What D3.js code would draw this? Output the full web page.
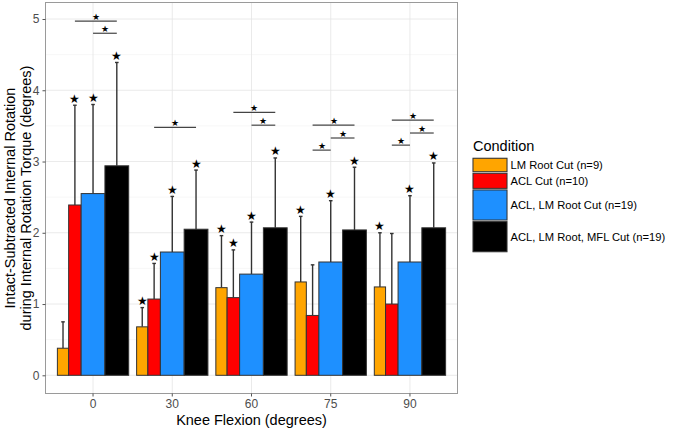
<!DOCTYPE html>
<html><head><meta charset="utf-8">
<script src="https://cdn.jsdelivr.net/npm/d3@7"></script>
<style>body{margin:0;background:#fff}svg{display:block}text{font-family:"Liberation Sans",Arial,sans-serif}</style>
</head><body><svg id="c" width="674" height="428"></svg>
<script>
const categories = ["0","30","60","75","90"];
const conditions = ["LM Root Cut (n=9)","ACL Cut (n=10)","ACL, LM Root Cut (n=19)","ACL, LM Root, MFL Cut (n=19)"];
const sampleN = [9,10,19,19];
const colors = ["#FFA500","#FF0000","#1E90FF","#000000"];
// mean per group (rows = knee flexion), columns = condition
const means = [
  [0.38,2.39,2.55,2.94],
  [0.68,1.07,1.73,2.05],
  [1.23,1.09,1.42,2.07],
  [1.31,0.84,1.59,2.04],
  [1.24,1.00,1.59,2.07]
];
// upper end of error bar (mean + SD)
const upper = [
  [0.75,3.79,3.80,4.39],
  [0.95,1.57,2.51,2.88],
  [1.96,1.76,2.15,3.05],
  [2.23,1.55,2.45,2.92],
  [2.00,1.99,2.52,2.98]
];
const starred = [
  [0,1,1,1],
  [1,1,1,1],
  [1,1,1,1],
  [1,0,1,1],
  [1,0,1,1]
];
// significance brackets: group, from condition, to condition, y value
const sigGroup = [0,0,1,2,2,3,3,3,4,4,4];
const sigFrom  = [1,2,1,1,2,1,2,1,1,2,1];
const sigTo    = [3,3,3,3,3,3,3,2,3,3,2];
const sigY     = [4.97,4.80,3.48,3.69,3.51,3.51,3.33,3.16,3.58,3.40,3.23];
const yTicks = [0,1,2,3,4,5];

const svg = d3.select("#c");
const L = 45.5, R = 457.5, T = 2.5, B = 393.5;
const x = d3.scaleBand().domain(categories).range([L,R]).paddingInner(0).paddingOuter(0.1);
const y = d3.scaleLinear().domain([0,5]).range([375.3,19]);
const step = x.step();
const nSum = d3.sum(sampleN);
const sub = d3.scaleLinear().domain([0,nSum]).range([-0.45*step,0.45*step]);
const cum = sampleN.map((n,i)=>d3.sum(sampleN.slice(0,i)));
const center = (g,c)=> x(categories[g]) + step/2 + sub(cum[c] + sampleN[c]/2);

// grid
const gGrid = svg.append("g");
d3.range(0.5,5.5,1).forEach(v=>{
  gGrid.append("line").attr("x1",L).attr("x2",R).attr("y1",y(v)).attr("y2",y(v)).attr("stroke","#f2f2f2").attr("stroke-width",0.6);
});
yTicks.forEach(v=>{
  gGrid.append("line").attr("x1",L).attr("x2",R).attr("y1",y(v)).attr("y2",y(v)).attr("stroke","#e5e5e5").attr("stroke-width",0.8);
});
categories.forEach(c=>{
  const cx = x(c)+step/2;
  gGrid.append("line").attr("x1",cx).attr("x2",cx).attr("y1",T).attr("y2",B).attr("stroke","#e5e5e5").attr("stroke-width",0.8);
});

// error bars
const gErr = svg.append("g");
means.forEach((row,g)=>row.forEach((m,c)=>{
  const cx = center(g,c);
  gErr.append("line").attr("x1",cx).attr("x2",cx).attr("y1",y(m)).attr("y2",y(upper[g][c])).attr("stroke","#333").attr("stroke-width",1.4);
  gErr.append("line").attr("x1",cx-1.8).attr("x2",cx+1.8).attr("y1",y(upper[g][c])).attr("y2",y(upper[g][c])).attr("stroke","#333").attr("stroke-width",1.4);
}));

// bars
const gBars = svg.append("g");
means.forEach((row,g)=>row.forEach((m,c)=>{
  const x0 = x(categories[g]) + step/2 + sub(cum[c]);
  const w = sub(cum[c]+sampleN[c]) - sub(cum[c]);
  gBars.append("rect").attr("x",x0).attr("y",y(m)).attr("width",w).attr("height",y(0)-y(m))
    .attr("fill",colors[c]).attr("stroke","#333").attr("stroke-width",1);
}));

// stars above bars
means.forEach((row,g)=>row.forEach((m,c)=>{
  if(!starred[g][c]) return;
  svg.append("text").attr("x",center(g,c)).attr("y",y(upper[g][c])-2.5).attr("text-anchor","middle")
    .attr("font-family","DejaVu Sans").attr("font-size",11.5).attr("fill","#000").text("★");
}));

// significance brackets
sigGroup.forEach((g,i)=>{
  const x1 = center(g,sigFrom[i]), x2 = center(g,sigTo[i]), yy = y(sigY[i]);
  svg.append("line").attr("x1",x1).attr("x2",x2).attr("y1",yy).attr("y2",yy).attr("stroke","#444").attr("stroke-width",1.2);
  svg.append("text").attr("x",(x1+x2)/2).attr("y",yy-1.5).attr("text-anchor","middle")
    .attr("font-family","DejaVu Sans").attr("font-size",8.5).attr("fill","#000").text("★");
});

// panel border
svg.append("rect").attr("x",L).attr("y",T).attr("width",R-L).attr("height",B-T).attr("fill","none").attr("stroke","#9a9a9a").attr("stroke-width",1);

// axes
const ya = svg.append("g").attr("transform",`translate(${L},0)`).call(d3.axisLeft(y).tickValues(yTicks).tickSize(3).tickPadding(3).tickFormat(d3.format("d")));
ya.select(".domain").remove();
ya.selectAll(".tick line").attr("stroke","#555");
ya.selectAll("text").attr("font-size",12).attr("fill","#4d4d4d").attr("font-family","Liberation Sans, Arial");
const xa = svg.append("g").attr("transform",`translate(0,${B})`).call(d3.axisBottom(x).tickSize(3).tickPadding(3));
xa.select(".domain").remove();
xa.selectAll(".tick line").attr("stroke","#555");
xa.selectAll("text").attr("font-size",12).attr("fill","#4d4d4d").attr("font-family","Liberation Sans, Arial");

// axis titles
svg.append("text").attr("x",251.5).attr("y",425).attr("text-anchor","middle").attr("font-size",14.5).attr("fill","#000").text("Knee Flexion (degrees)");
const yt = svg.append("text").attr("transform",`translate(0,198) rotate(-90)`).attr("text-anchor","middle").attr("font-size",14.5).attr("fill","#000");
yt.append("tspan").attr("x",0).attr("y",15).text("Intact-Subtracted Internal Rotation");
yt.append("tspan").attr("x",0).attr("y",30.5).text("during Internal Rotation Torque (degrees)");

// legend
const lg = svg.append("g");
lg.append("text").attr("x",473).attr("y",151).attr("font-size",14.5).attr("fill","#000").text("Condition");
const keyScale = d3.scaleLinear().domain([0,nSum]).range([0,95]);
let ky = 157.5;
conditions.forEach((cond,i)=>{
  const h = keyScale(sampleN[i]);
  lg.append("rect").attr("x",472.5).attr("y",ky).attr("width",35).attr("height",h).attr("fill","#d9d9d9");
  lg.append("rect").attr("x",473).attr("y",ky+0.8).attr("width",34).attr("height",h-1.6).attr("fill",colors[i]).attr("stroke","#333").attr("stroke-width",1);
  lg.append("text").attr("x",510.5).attr("y",ky+h/2+4).attr("font-size",11.2).attr("fill","#000").text(cond);
  ky += h;
});
</script></body></html>
